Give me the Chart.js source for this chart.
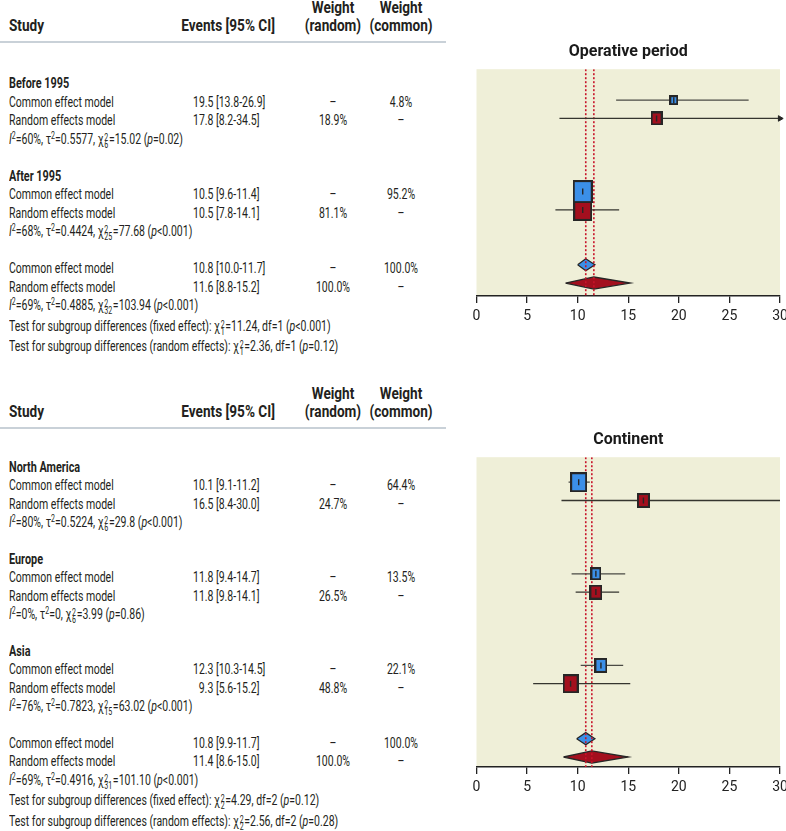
<!DOCTYPE html>
<html>
<head>
<meta charset="utf-8">
<script src="https://cdn.jsdelivr.net/npm/chart.js@4.4.0/dist/chart.umd.min.js"></script>
<style>
body { margin:0; width:786px; height:831px; position:relative; overflow:hidden; background:#fff;
  font-family:Roboto,"Liberation Sans",sans-serif; color:#231f20; }
.t { position:absolute; white-space:nowrap; font-size:15px; line-height:18px; height:18px;
  transform-origin:left center; transform:scaleX(.7); }
.b { font-weight:bold; font-size:15.5px; }
.h { font-weight:bold; font-size:17px; transform:scaleX(.8); }
.t.c { transform-origin:center center; transform:translateX(-50%) scaleX(.7); }
.t.r { transform-origin:right center; transform:translateX(-100%) scaleX(.7); }
.t.h.c { transform:translateX(-50%) scaleX(.8); }
.t.h.r { transform:translateX(-100%) scaleX(.8); }
.rule { position:absolute; left:0; width:446px; height:2px; background:#c9d1d8; }
.num { display:inline-block; width:29px; text-align:right; }
sup { font-size:10px; vertical-align:5px; line-height:0; }
.ss { display:inline-block; vertical-align:-4px; line-height:7px; font-size:10px; margin:0 1px; }
.ss span { display:block; }
canvas { position:absolute; }
</style>
</head>
<body>
<div id="txt"></div>
<canvas id="c1" width="316" height="306" style="left:470px;top:30px"></canvas>
<canvas id="c2" width="316" height="389" style="left:470px;top:418px"></canvas>
<script>
// operative period
let periodGroups = ['Before 1995', 'After 1995'];
let periodComEst = [19.5, 10.5];
let periodComLo = [13.8, 9.6];
let periodComHi = [26.9, 11.4];
let periodComW = [4.8, 95.2];
let periodRanEst = [17.8, 10.5];
let periodRanLo = [8.2, 7.8];
let periodRanHi = [34.5, 14.1];
let periodRanW = [18.9, 81.1];
let periodI2 = [60, 68];
let periodTau2 = ['0.5577', '0.4424'];
let periodDf = [6, 25];
let periodQ = ['15.02', '77.68'];
let periodP = ['=0.02', '<0.001'];
let periodAll = { com: [10.8, 10.0, 11.7], ran: [11.6, 8.8, 15.2], i2: 69, tau2: '0.4885', df: 32, q: '103.94', p: '<0.001' };
let periodTests = [['fixed effect', 1, '11.24', 1, '<0.001'], ['random effects', 1, '2.36', 1, '=0.12']];

// continent
let contGroups = ['North America', 'Europe', 'Asia'];
let contComEst = [10.1, 11.8, 12.3];
let contComLo = [9.1, 9.4, 10.3];
let contComHi = [11.2, 14.7, 14.5];
let contComW = [64.4, 13.5, 22.1];
let contRanEst = [16.5, 11.8, 9.3];
let contRanLo = [8.4, 9.8, 5.6];
let contRanHi = [30.0, 14.1, 15.2];
let contRanW = [24.7, 26.5, 48.8];
let contI2 = [80, 0, 76];
let contTau2 = ['0.5224', '0', '0.7823'];
let contDf = [6, 6, 15];
let contQ = ['29.8', '3.99', '63.02'];
let contP = ['<0.001', '=0.86', '<0.001'];
let contAll = { com: [10.8, 9.9, 11.7], ran: [11.4, 8.6, 15.0], i2: 69, tau2: '0.4916', df: 31, q: '101.10', p: '<0.001' };
let contTests = [['fixed effect', 2, '4.29', 2, '=0.12'], ['random effects', 2, '2.56', 2, '=0.28']];

let xTicks = [0, 5, 10, 15, 20, 25, 30];

const FONT = 'Roboto, "Liberation Sans", sans-serif';
const BLUE = '#3b8fe8', RED = '#a30f1e', EDGE = '#262626', BG = '#efefd8';
const txt = document.getElementById('txt');

function put(x, y, html, cls) {
    let d = document.createElement('div');
    d.className = 't ' + (cls || '');
    d.style.left = x + 'px';
    d.style.top = (y - 9) + 'px';
    d.innerHTML = html;
    txt.appendChild(d);
}

function ci(e, l, h) {
    return '<span class="num">' + e.toFixed(1) + '</span> [' + l.toFixed(1) + '-' + h.toFixed(1) + ']';
}
function chi(df) {
    return '&chi;<span class="ss"><span>2</span><span>' + df + '</span></span>';
}
function stats(i2, tau2, df, q, p) {
    return '<i>I</i><sup>2</sup>=' + i2 + '%, &tau;<sup>2</sup>=' + tau2 + ', ' + chi(df) + '=' + q + ' (<i>p</i>' + p + ')';
}

function header(y) {
    put(9, y, 'Study', 'h');
    put(275, y, 'Events [95% CI]', 'h r');
    put(333, y - 18, 'Weight', 'h c');
    put(333, y, '(random)', 'h c');
    put(401, y - 18, 'Weight', 'h c');
    put(401, y, '(common)', 'h c');
    let r = document.createElement('div');
    r.className = 'rule';
    r.style.top = (y + 16) + 'px';
    txt.appendChild(r);
}

function modelRows(y, step, com, ran, wc, wr) {
    put(9, y, 'Common effect model');
    put(193, y, ci(com[0], com[1], com[2]));
    put(333, y, '&ndash;', 'c');
    put(401, y, wc.toFixed(1) + '%', 'c');
    put(9, y + step, 'Random effects model');
    put(193, y + step, ci(ran[0], ran[1], ran[2]));
    put(333, y + step, wr.toFixed(1) + '%', 'c');
    put(401, y + step, '&ndash;', 'c');
}

function table(p) {
    header(p.headY);
    let n = p.groups.length;
    for (let i = 0; i < n; i++) {
        let y = p.y0 + i * 5 * p.step;
        put(9, y, p.groups[i], 'b');
        modelRows(y + p.step, p.step,
            [p.comEst[i], p.comLo[i], p.comHi[i]], [p.ranEst[i], p.ranLo[i], p.ranHi[i]],
            p.comW[i], p.ranW[i]);
        put(9, y + 3 * p.step, stats(p.i2[i], p.tau2[i], p.df[i], p.q[i], p.p[i]));
    }
    let y = p.y0 + n * 5 * p.step;
    modelRows(y, p.step, p.all.com, p.all.ran, 100, 100);
    put(9, y + 2 * p.step, stats(p.all.i2, p.all.tau2, p.all.df, p.all.q, p.all.p));
    p.tests.forEach(function (t, k) {
        put(9, y + 2 * p.step + 20.5 * (k + 1),
            'Test for subgroup differences (' + t[0] + '): ' + chi(t[1]) + '=' + t[2] + ', df=' + t[3] + ' (<i>p</i>' + t[4] + ')');
    });
}

function boxImg(weight, fill) {
    let w = Math.round(4 + 1.4 * Math.sqrt(weight));
    let h = Math.round(w * 1.18);
    let c = document.createElement('canvas');
    c.width = w + 2; c.height = h + 2;
    let g = c.getContext('2d');
    g.fillStyle = EDGE;
    g.fillRect(0, 0, w + 2, h + 2);
    g.fillStyle = fill;
    g.fillRect(2, 2, w - 2, h - 2);
    return c;
}

const panelBg = {
    id: 'panelBg',
    beforeDraw(chart) {
        let a = chart.chartArea, g = chart.ctx;
        g.save();
        g.fillStyle = BG;
        g.fillRect(a.left, a.top, a.right - a.left, a.bottom - a.top);
        g.restore();
    }
};

function forest(id, p) {
    let n = p.groups.length;
    let comRows = [], ranRows = [];
    for (let i = 0; i < n; i++) {
        comRows.push(i * 5 + 1);
        ranRows.push(i * 5 + 2);
    }
    let allRow = n * 5;
    let xMax = xTicks[xTicks.length - 1];

    function diamond(v, row) {
        let h = 0.33;
        return [{ x: v[1], y: row }, { x: v[0], y: row - h }, { x: v[2], y: row }, { x: v[0], y: row + h }, { x: v[1], y: row }];
    }
    let arrows = [];
    ranRows.forEach(function (r, i) { if (p.ranHi[i] > xMax) arrows.push({ x: xMax, y: r }); });
    comRows.forEach(function (r, i) { if (p.comHi[i] > xMax) arrows.push({ x: xMax, y: r }); });

    let datasets = [
        { label: 'ticks', order: 0, data: comRows.map((r, i) => ({ x: p.comEst[i], y: r })).concat(ranRows.map((r, i) => ({ x: p.ranEst[i], y: r }))),
          pointStyle: 'line', rotation: 90, pointRadius: 3, borderColor: EDGE, borderWidth: 1.4 },
        { label: 'common', order: 1, data: comRows.map((r, i) => ({ x: p.comEst[i], y: r })),
          pointStyle: p.comW.map(w => boxImg(w, BLUE)) },
        { label: 'random', order: 1, data: ranRows.map((r, i) => ({ x: p.ranEst[i], y: r })),
          pointStyle: p.ranW.map(w => boxImg(w, RED)) },
        { label: 'arrow', order: 1, data: arrows, pointStyle: 'triangle', rotation: 90, pointRadius: 3.2,
          backgroundColor: EDGE, borderColor: EDGE, clip: false },
        { label: 'ref com', order: 3, type: 'line', data: [{ x: p.all.com[0], y: p.yMin }, { x: p.all.com[0], y: p.yMax }],
          borderColor: '#c8142a', borderWidth: 1.6, borderDash: [2, 2], pointRadius: 0 },
        { label: 'ref ran', order: 3, type: 'line', data: [{ x: p.all.ran[0], y: p.yMin }, { x: p.all.ran[0], y: p.yMax }],
          borderColor: '#c8142a', borderWidth: 1.6, borderDash: [2, 2], pointRadius: 0 },
        { label: 'dia com', order: 4, type: 'line', data: diamond(p.all.com, allRow), fill: 'shape',
          backgroundColor: BLUE, borderColor: EDGE, borderWidth: 1.3, pointRadius: 0, tension: 0 },
        { label: 'dia ran', order: 4, type: 'line', data: diamond(p.all.ran, allRow + 1), fill: 'shape',
          backgroundColor: RED, borderColor: EDGE, borderWidth: 1.3, pointRadius: 0, tension: 0 }
    ];
    // confidence interval whiskers, one line per row
    comRows.forEach(function (r, i) {
        datasets.push({ label: 'ci com ' + i, order: 2, type: 'line', data: [{ x: p.comLo[i], y: r }, { x: p.comHi[i], y: r }],
            borderColor: '#4a4a44', borderWidth: 1.3, pointRadius: 0 });
    });
    ranRows.forEach(function (r, i) {
        datasets.push({ label: 'ci ran ' + i, order: 2, type: 'line', data: [{ x: p.ranLo[i], y: r }, { x: p.ranHi[i], y: r }],
            borderColor: '#35352f', borderWidth: 1.3, pointRadius: 0 });
    });

    new Chart(document.getElementById(id), {
        type: 'scatter',
        data: { datasets: datasets },
        plugins: [panelBg],
        options: {
            responsive: false,
            animation: false,
            layout: { padding: { left: 6.5, right: 6 } },
            plugins: {
                legend: { display: false },
                tooltip: { enabled: false },
                title: { display: true, text: p.title, color: '#1a1a1a', font: { family: FONT, size: 16, weight: 'bold' },
                         padding: { top: 12, bottom: 8 } }
            },
            scales: {
                x: { type: 'linear', min: xTicks[0], max: xMax,
                     afterBuildTicks(s) { s.ticks = xTicks.map(v => ({ value: v })); },
                     ticks: { color: '#222', font: { family: FONT, size: 14 }, padding: 5 },
                     grid: { drawOnChartArea: false, drawTicks: true, tickLength: 7, color: '#222', lineWidth: 1.3 },
                     border: { display: true, color: '#222', width: 1.5 },
                     afterFit(s) { s.height = 40; s.paddingLeft = 0; s.paddingRight = 0; } },
                y: { type: 'linear', display: false, reverse: true, min: p.yMin, max: p.yMax }
            }
        }
    });
}

let period = { title: 'Operative period', headY: 25, y0: 83, step: 18.5, yMin: -0.694, yMax: 11.71,
    groups: periodGroups, comEst: periodComEst, comLo: periodComLo, comHi: periodComHi, comW: periodComW,
    ranEst: periodRanEst, ranLo: periodRanLo, ranHi: periodRanHi, ranW: periodRanW,
    i2: periodI2, tau2: periodTau2, df: periodDf, q: periodQ, p: periodP, all: periodAll, tests: periodTests };
let continent = { title: 'Continent', headY: 411, y0: 467, step: 18.4, yMin: -0.364, yMax: 16.546,
    groups: contGroups, comEst: contComEst, comLo: contComLo, comHi: contComHi, comW: contComW,
    ranEst: contRanEst, ranLo: contRanLo, ranHi: contRanHi, ranW: contRanW,
    i2: contI2, tau2: contTau2, df: contDf, q: contQ, p: contP, all: contAll, tests: contTests };

table(period);
table(continent);
forest('c1', period);
forest('c2', continent);
</script>
</body>
</html>
